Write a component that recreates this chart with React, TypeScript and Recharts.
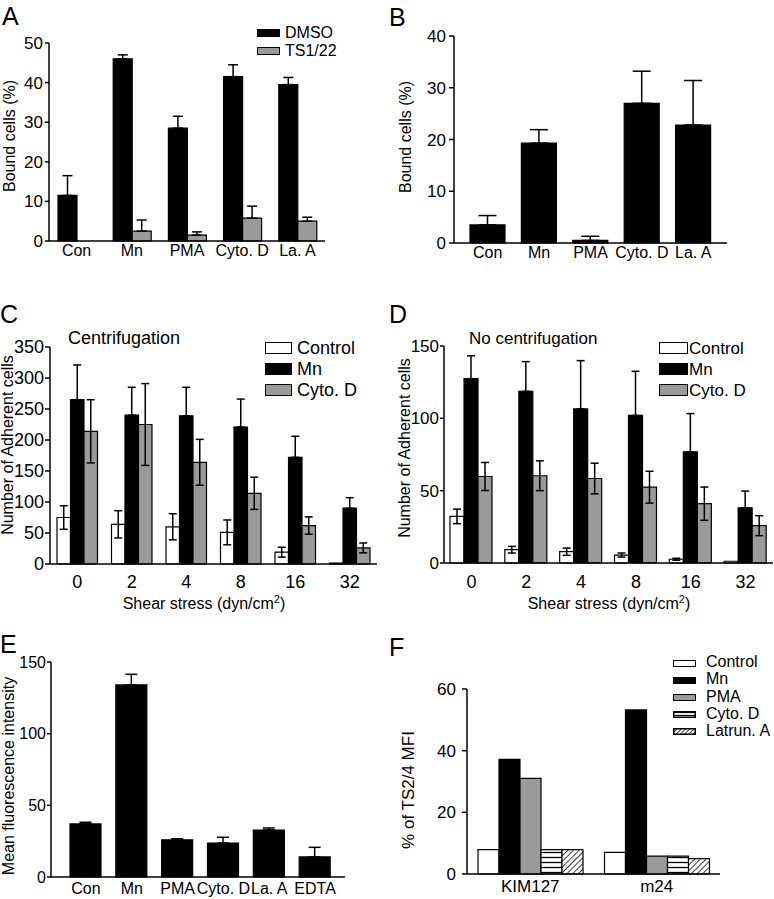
import React from 'react'
import { BarChart, Bar, XAxis, YAxis, ErrorBar } from 'recharts'

const FONT = '"Liberation Sans", Arial, Helvetica, sans-serif'

// Panel A
const aCats = ['Con', 'Mn', 'PMA', 'Cyto. D', 'La. A']
const aDmso = [11.5, 46, 28.5, 41.5, 39.5]
const aDmsoErr = [5, 1, 3, 3, 1.8]
const aTs = [0, 2.5, 1.5, 5.8, 5]
const aTsErr = [2.2, 2.8, 0.8, 3, 1]
const aTicks = [0, 10, 20, 30, 40, 50]

// Panel B
const bCats = ['Con', 'Mn', 'PMA', 'Cyto. D', 'La. A']
const bVals = [3.5, 19.3, 0.5, 27, 22.8]
const bErr = [1.8, 2.6, 0.8, 6.2, 8.6]
const bTicks = [0, 10, 20, 30, 40]

// Panel C (centrifugation)
const shear = ['0', '2', '4', '8', '16', '32']
const cControl = [75, 64, 60, 51, 19, 1.5]
const cControlErr = [19, 22, 21, 20, 8, 0]
const cMn = [265, 240, 239, 221, 172, 90]
const cMnErr = [56, 45, 46, 45, 34, 17]
const cCyto = [214, 225, 164, 114, 62, 26]
const cCytoErr = [51, 66, 37, 26, 14, 8]
const cTicks = [0, 50, 100, 150, 200, 250, 300, 350]

// Panel D (no centrifugation)
const dControl = [32.2, 9.2, 7.8, 5.5, 2.6, 1.2]
const dControlErr = [5, 2.3, 2.5, 1.4, 0.7, 0]
const dMn = [127.4, 118.7, 106.5, 102, 76.8, 38.2]
const dMnErr = [15.8, 20.5, 33.4, 30.5, 26.5, 11.5]
const dCyto = [59.8, 60.3, 58.4, 52.4, 41, 25.8]
const dCytoErr = [9.7, 10.3, 10.6, 11, 11.5, 6.9]
const dTicks = [0, 50, 100, 150]

// Panel E
const eCats = ['Con', 'Mn', 'PMA', 'Cyto. D', 'La. A', 'EDTA']
const eVals = [37, 134, 26, 23.7, 32.8, 14]
const eErr = [1.2, 7.4, 0.7, 4, 1.4, 6.7]
const eTicks = [0, 50, 100, 150]

// Panel F
const fCats = ['KIM127', 'm24']
const fControl = [7.9, 7]
const fMn = [37.2, 53.2]
const fPma = [31, 5.8]
const fCyto = [7.9, 5.8]
const fLatrun = [7.9, 5]
const fTicks = [0, 20, 40, 60]

const grey = '#9a9a9a'

const dataA = aCats.map((c, i) => ({ c, dmso: aDmso[i], dmsoE: [0, aDmsoErr[i]], ts: aTs[i], tsE: [0, aTsErr[i]] }))
const dataB = bCats.map((c, i) => ({ c, v: bVals[i], e: [0, bErr[i]] }))
const dataC = shear.map((c, i) => ({
  c,
  ctl: cControl[i], ctlE: cControlErr[i],
  mn: cMn[i], mnE: [0, cMnErr[i]],
  cyto: cCyto[i], cytoE: cCytoErr[i],
}))
const dataD = shear.map((c, i) => ({
  c,
  ctl: dControl[i], ctlE: dControlErr[i],
  mn: dMn[i], mnE: [0, dMnErr[i]],
  cyto: dCyto[i], cytoE: dCytoErr[i],
}))
const dataE = eCats.map((c, i) => ({ c, v: eVals[i], e: [0, eErr[i]] }))
const dataF = fCats.map((c, i) => ({ c, ctl: fControl[i], mn: fMn[i], pma: fPma[i], cyto: fCyto[i], lat: fLatrun[i] }))

const axisLine = { stroke: '#000', strokeWidth: 1.5 }

function Box({ left, top, children }: { left: number; top: number; children: React.ReactNode }) {
  return <div style={{ position: 'absolute', left, top }}>{children}</div>
}

function Txt({ x, y, size = 16, children, anchor = 'left' }: { x: number; y: number; size?: number; children: React.ReactNode; anchor?: 'left' | 'center' }) {
  return (
    <div
      style={{
        position: 'absolute', left: x, top: y, fontSize: size, lineHeight: 1, whiteSpace: 'nowrap',
        transform: anchor === 'center' ? 'translate(-50%,-50%)' : 'translateY(-50%)',
      }}
    >
      {children}
    </div>
  )
}

function VTxt({ x, y, size = 16, children }: { x: number; y: number; size?: number; children: React.ReactNode }) {
  return (
    <div
      style={{
        position: 'absolute', left: x, top: y, fontSize: size, lineHeight: 1, whiteSpace: 'nowrap',
        transform: 'translate(-50%,-50%) rotate(-90deg)',
      }}
    >
      {children}
    </div>
  )
}

function Swatch({ x, y, w, h, fill }: { x: number; y: number; w: number; h: number; fill: string }) {
  return (
    <div style={{ position: 'absolute', left: x, top: y - h / 2, width: w, height: h, background: fill, border: '1.5px solid #000', boxSizing: 'border-box' }} />
  )
}

function PatSwatch({ x, y, w, h, kind }: { x: number; y: number; w: number; h: number; kind: 'h' | 'd' }) {
  const id = 'sw-' + kind
  return (
    <svg style={{ position: 'absolute', left: x, top: y - h / 2 }} width={w} height={h}>
      <defs>
        {kind === 'h' ? (
          <pattern id={id} width={4} height={3} patternUnits="userSpaceOnUse">
            <rect width={4} height={3} fill="#fff" />
            <line x1={0} y1={1.5} x2={4} y2={1.5} stroke="#000" strokeWidth={1.2} />
          </pattern>
        ) : (
          <pattern id={id} width={3} height={3} patternUnits="userSpaceOnUse" patternTransform="rotate(45)">
            <rect width={3} height={3} fill="#fff" />
            <line x1={0} y1={0} x2={0} y2={3} stroke="#000" strokeWidth={1.5} />
          </pattern>
        )}
      </defs>
      <rect x={0.75} y={0.75} width={w - 1.5} height={h - 1.5} fill={`url(#${id})`} stroke="#000" strokeWidth={1.5} />
    </svg>
  )
}

const yTick = (size: number) => ({ fontSize: size, fill: '#000', fontFamily: FONT })

export default function App() {
  return (
    <div style={{ position: 'absolute', left: 0, top: 0, width: 774, height: 899, background: '#fff', fontFamily: FONT, color: '#000', overflow: 'hidden' }}>
      {/* A */}
      <Box left={0} top={0}>
        <BarChart width={387} height={275} data={dataA} margin={{ top: 43, right: 62, left: 0, bottom: 0 }} barSize={19} barGap={0}>
          <XAxis dataKey="c" height={34} interval={0} tickLine={false} axisLine={axisLine} tickSize={0} tickMargin={4} tick={yTick(16)} />
          <YAxis width={49} domain={[0, 50]} ticks={aTicks} axisLine={axisLine} tickLine={axisLine} tickSize={4} tickMargin={2} tick={yTick(17)} />
          <Bar dataKey="dmso" fill="#000" stroke="#000" strokeWidth={1.2} isAnimationActive={false}>
            <ErrorBar dataKey="dmsoE" width={5} stroke="#000" strokeWidth={1.5} isAnimationActive={false} />
          </Bar>
          <Bar dataKey="ts" fill={grey} stroke="#000" strokeWidth={1.2} isAnimationActive={false}>
            <ErrorBar dataKey="tsE" width={5} stroke="#000" strokeWidth={1.5} isAnimationActive={false} />
          </Bar>
        </BarChart>
      </Box>
      <Txt x={2} y={16} size={25}>A</Txt>
      <VTxt x={10} y={136}>Bound cells (%)</VTxt>
      <Swatch x={257} y={33} w={23} h={8} fill="#000" />
      <Txt x={285} y={33} size={16}>DMSO</Txt>
      <Swatch x={257} y={51} w={23} h={8} fill={grey} />
      <Txt x={285} y={51} size={16}>TS1/22</Txt>

      {/* B */}
      <Box left={387} top={0}>
        <BarChart width={387} height={275} data={dataB} margin={{ top: 36, right: 47, left: 0, bottom: 0 }} barSize={35}>
          <XAxis dataKey="c" height={32} interval={0} padding={{ left: 8, right: 8 }} tickLine={false} axisLine={axisLine} tickSize={0} tickMargin={4} tick={yTick(16)} />
          <YAxis width={67} domain={[0, 40]} ticks={bTicks} axisLine={axisLine} tickLine={axisLine} tickSize={5} tickMargin={3} tick={yTick(17)} />
          <Bar dataKey="v" fill="#000" stroke="#000" strokeWidth={1.2} isAnimationActive={false}>
            <ErrorBar dataKey="e" width={9} stroke="#000" strokeWidth={1.5} isAnimationActive={false} />
          </Bar>
        </BarChart>
      </Box>
      <Txt x={389} y={17} size={25}>B</Txt>
      <VTxt x={406} y={137}>Bound cells (%)</VTxt>

      {/* C */}
      <Box left={0} top={300}>
        <BarChart width={387} height={310} data={dataC} margin={{ top: 47, right: 10, left: 0, bottom: 0 }} barSize={13.5} barGap={0}>
          <XAxis dataKey="c" height={46} interval={0} tickLine={false} axisLine={axisLine} tickSize={0} tickMargin={11} tick={yTick(18)} />
          <YAxis width={50} domain={[0, 350]} ticks={cTicks} axisLine={axisLine} tickLine={axisLine} tickSize={5} tickMargin={1} tick={yTick(18)} />
          <Bar dataKey="ctl" fill="#fff" stroke="#000" strokeWidth={1.2} isAnimationActive={false}>
            <ErrorBar dataKey="ctlE" width={4} stroke="#000" strokeWidth={1.5} isAnimationActive={false} />
          </Bar>
          <Bar dataKey="mn" fill="#000" stroke="#000" strokeWidth={1.2} isAnimationActive={false}>
            <ErrorBar dataKey="mnE" width={4} stroke="#000" strokeWidth={1.5} isAnimationActive={false} />
          </Bar>
          <Bar dataKey="cyto" fill={grey} stroke="#000" strokeWidth={1.2} isAnimationActive={false}>
            <ErrorBar dataKey="cytoE" width={4} stroke="#000" strokeWidth={1.5} isAnimationActive={false} />
          </Bar>
        </BarChart>
      </Box>
      <Txt x={0} y={314} size={25}>C</Txt>
      <Txt x={68} y={338} size={18}>Centrifugation</Txt>
      <VTxt x={8} y={445}>Number of Adherent cells</VTxt>
      <Swatch x={265} y={348} w={27} h={12} fill="#fff" />
      <Txt x={297} y={348} size={18}>Control</Txt>
      <Swatch x={265} y={369} w={27} h={12} fill="#000" />
      <Txt x={297} y={369} size={18}>Mn</Txt>
      <Swatch x={265} y={390} w={27} h={12} fill={grey} />
      <Txt x={297} y={390} size={18}>Cyto. D</Txt>
      <Txt x={204} y={603} size={16} anchor="center">Shear stress (dyn/cm<sup style={{ fontSize: 11 }}>2</sup>)</Txt>

      {/* D */}
      <Box left={387} top={300}>
        <BarChart width={387} height={310} data={dataD} margin={{ top: 46, right: 1, left: 0, bottom: 0 }} barSize={14} barGap={0}>
          <XAxis dataKey="c" height={47} interval={0} tickLine={false} axisLine={axisLine} tickSize={0} tickMargin={12} tick={yTick(18)} />
          <YAxis width={57} domain={[0, 150]} ticks={dTicks} axisLine={axisLine} tickLine={axisLine} tickSize={4} tickMargin={1} tick={yTick(17)} />
          <Bar dataKey="ctl" fill="#fff" stroke="#000" strokeWidth={1.2} isAnimationActive={false}>
            <ErrorBar dataKey="ctlE" width={4} stroke="#000" strokeWidth={1.5} isAnimationActive={false} />
          </Bar>
          <Bar dataKey="mn" fill="#000" stroke="#000" strokeWidth={1.2} isAnimationActive={false}>
            <ErrorBar dataKey="mnE" width={4} stroke="#000" strokeWidth={1.5} isAnimationActive={false} />
          </Bar>
          <Bar dataKey="cyto" fill={grey} stroke="#000" strokeWidth={1.2} isAnimationActive={false}>
            <ErrorBar dataKey="cytoE" width={4} stroke="#000" strokeWidth={1.5} isAnimationActive={false} />
          </Bar>
        </BarChart>
      </Box>
      <Txt x={389} y={314} size={25}>D</Txt>
      <Txt x={469} y={338} size={17}>No centrifugation</Txt>
      <VTxt x={405} y={448}>Number of Adherent cells</VTxt>
      <Swatch x={659} y={348} w={29} h={12} fill="#fff" />
      <Txt x={689} y={348} size={17}>Control</Txt>
      <Swatch x={659} y={369} w={29} h={12} fill="#000" />
      <Txt x={689} y={369} size={17}>Mn</Txt>
      <Swatch x={659} y={390} w={29} h={12} fill={grey} />
      <Txt x={689} y={390} size={17}>Cyto. D</Txt>
      <Txt x={609} y={603} size={16} anchor="center">Shear stress (dyn/cm<sup style={{ fontSize: 11 }}>2</sup>)</Txt>

      {/* E */}
      <Box left={0} top={640}>
        <BarChart width={387} height={259} data={dataE} margin={{ top: 22, right: 42, left: 0, bottom: 0 }} barSize={31}>
          <XAxis dataKey="c" height={22} interval={0} padding={{ left: 12, right: 7 }} tickLine={false} axisLine={axisLine} tickSize={0} tickMargin={6} tick={yTick(16)} />
          <YAxis width={51} domain={[0, 150]} ticks={eTicks} axisLine={axisLine} tickLine={axisLine} tickSize={4} tickMargin={1} tick={yTick(16)} />
          <Bar dataKey="v" fill="#000" stroke="#000" strokeWidth={1.2} isAnimationActive={false}>
            <ErrorBar dataKey="e" width={6} stroke="#000" strokeWidth={1.5} isAnimationActive={false} />
          </Bar>
        </BarChart>
      </Box>
      <Txt x={0} y={644} size={25}>E</Txt>
      <VTxt x={9} y={776}>Mean fluorescence intensity</VTxt>

      {/* F */}
      <Box left={387} top={640}>
        <BarChart width={387} height={259} data={dataF} margin={{ top: 49, right: 54, left: 0, bottom: 0 }} barSize={21} barGap={0}>
          <defs>
            <pattern id="fH" width={6} height={5} patternUnits="userSpaceOnUse">
              <rect width={6} height={5} fill="#fff" />
              <line x1={0} y1={2.5} x2={6} y2={2.5} stroke="#000" strokeWidth={1.3} />
            </pattern>
            <pattern id="fD" width={4} height={4} patternUnits="userSpaceOnUse" patternTransform="rotate(45)">
              <rect width={4} height={4} fill="#fff" />
              <line x1={0} y1={0} x2={0} y2={4} stroke="#000" strokeWidth={1.5} />
            </pattern>
          </defs>
          <XAxis dataKey="c" height={25} interval={0} tickLine={false} axisLine={axisLine} tickSize={0} tickMargin={6} tick={yTick(17)} />
          <YAxis width={80} domain={[0, 60]} ticks={fTicks} axisLine={axisLine} tickLine={axisLine} tickSize={5} tickMargin={6} tick={yTick(17)} />
          <Bar dataKey="ctl" fill="#fff" stroke="#000" strokeWidth={1.2} isAnimationActive={false} />
          <Bar dataKey="mn" fill="#000" stroke="#000" strokeWidth={1.2} isAnimationActive={false} />
          <Bar dataKey="pma" fill={grey} stroke="#000" strokeWidth={1.2} isAnimationActive={false} />
          <Bar dataKey="cyto" fill="url(#fH)" stroke="#000" strokeWidth={1.2} isAnimationActive={false} />
          <Bar dataKey="lat" fill="url(#fD)" stroke="#000" strokeWidth={1.2} isAnimationActive={false} />
        </BarChart>
      </Box>
      <Txt x={389} y={647} size={25}>F</Txt>
      <VTxt x={408} y={790} size={17}>% of TS2/4 MFI</VTxt>
      <Swatch x={673} y={663} w={23} h={7} fill="#fff" />
      <Txt x={706} y={662} size={16}>Control</Txt>
      <Swatch x={673} y={680} w={23} h={7} fill="#000" />
      <Txt x={706} y={679} size={16}>Mn</Txt>
      <Swatch x={673} y={697} w={23} h={7} fill={grey} />
      <Txt x={706} y={697} size={16}>PMA</Txt>
      <PatSwatch x={673} y={714} w={23} h={7} kind="h" />
      <Txt x={706} y={714} size={16}>Cyto. D</Txt>
      <PatSwatch x={673} y={731} w={23} h={7} kind="d" />
      <Txt x={706} y={731} size={16}>Latrun. A</Txt>
    </div>
  )
}
